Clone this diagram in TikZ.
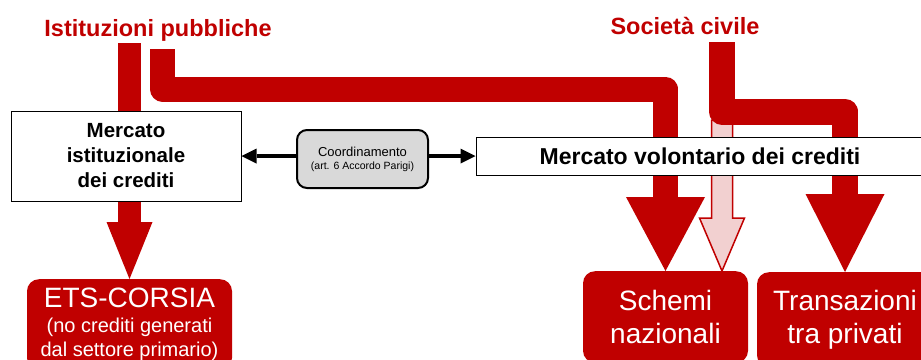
\documentclass[tikz,border=0pt]{standalone}
\usepackage{fontspec}
\setmainfont{Liberation Sans}
\usepackage{xcolor}
\usetikzlibrary{arrows.meta}
\usetikzlibrary{backgrounds}
\definecolor{rosso}{RGB}{192,0,0}
\definecolor{rosa}{RGB}{242,208,208}
\definecolor{grigio}{RGB}{217,217,217}

\begin{document}
\begin{tikzpicture}[x=1pt,y=-1pt,
	titolo/.style={text=rosso, font=\fontsize{23.5}{28}\selectfont\bfseries, inner sep=0pt, anchor=base},
	mercato/.style={draw=black, fill=white, line width=1pt, align=center},
	esito/.style={fill=rosso, text=white, rounded corners=12pt, align=center, anchor=north, font=\fontsize{28}{33}\selectfont},
	freccia/.style={rosso, line width=#1, line join=round}]

	\useasboundingbox (0,0) rectangle (921,359);
	\clip (0,0) rectangle (921,359);

	% Titles
	\node[titolo] (ist) at (158,36) {Istituzioni pubbliche};
	\node[titolo] (soc) at (685,34) {Società civile};

	% Markets
	\node[mercato, minimum width=230pt, minimum height=90pt, font=\fontsize{20.5}{25}\selectfont\bfseries] (mist) at (126,156) {Mercato\\istituzionale\\dei crediti};
	\node[mercato, minimum width=448pt, minimum height=38pt, font=\fontsize{23}{27}\selectfont\bfseries] (mvol) at (700,156) {Mercato volontario dei crediti};
	\node[draw=black, fill=grigio, line width=2pt, rounded corners=10pt, minimum width=131pt, minimum height=58pt, align=center, font=\fontsize{13}{13}\selectfont] (coord) at (362.5,159) {Coordinamento\\{\fontsize{10.5}{12}\selectfont (art. 6 Accordo Parigi)}};

	% Outcomes
	\node[esito, minimum width=205pt, inner ysep=9pt, font=\fontsize{20}{24.5}\selectfont] (ets) at (129.5,279) {{\fontsize{28}{30}\selectfont ETS-CORSIA}\\(no crediti generati\\dal settore primario)};
	\node[esito, minimum width=165pt, inner ysep=19pt] (schemi) at (665.5,271) {Schemi\\nazionali};
	\node[esito, minimum width=176pt, inner ysep=18pt] (trans) at (845,272) {Transazioni\\tra privati};

	\begin{scope}[on background layer]
		% pink arrow
		\filldraw[fill=rosa, draw=rosso, line width=1.5pt] ([xshift=56.5pt]schemi.north) -- ++(-22.5,-53) -- ++(12,0) -- ++(0,-98) -- ++(21,0) -- ++(0,98) -- ++(12,0) -- cycle;

		% red arrows
		\draw[freccia=23pt, -{Triangle[width=46pt,length=57pt,line width=0pt]}] ([xshift=-28.5pt,yshift=-7pt]ist.base) -- (ets.north);
		\draw[freccia=25pt, -{Triangle[width=79pt,length=74pt,line width=0pt]}] ([xshift=4.5pt,yshift=-13pt]ist.base) -- ++(0,40) -| (schemi.north);
		\draw[freccia=26pt, -{Triangle[width=79pt,length=78pt,line width=0pt]}] ([xshift=37pt,yshift=-8pt]soc.base) -- ++(0,69.5) -| (trans.north);

		% coordination
		\draw[line width=4.5pt, {Triangle[width=15pt,length=15pt,line width=0pt]}-{Triangle[width=15pt,length=15pt,line width=0pt]}] (mist.east) -- (mvol.west);
	\end{scope}

\end{tikzpicture}
\end{document}
